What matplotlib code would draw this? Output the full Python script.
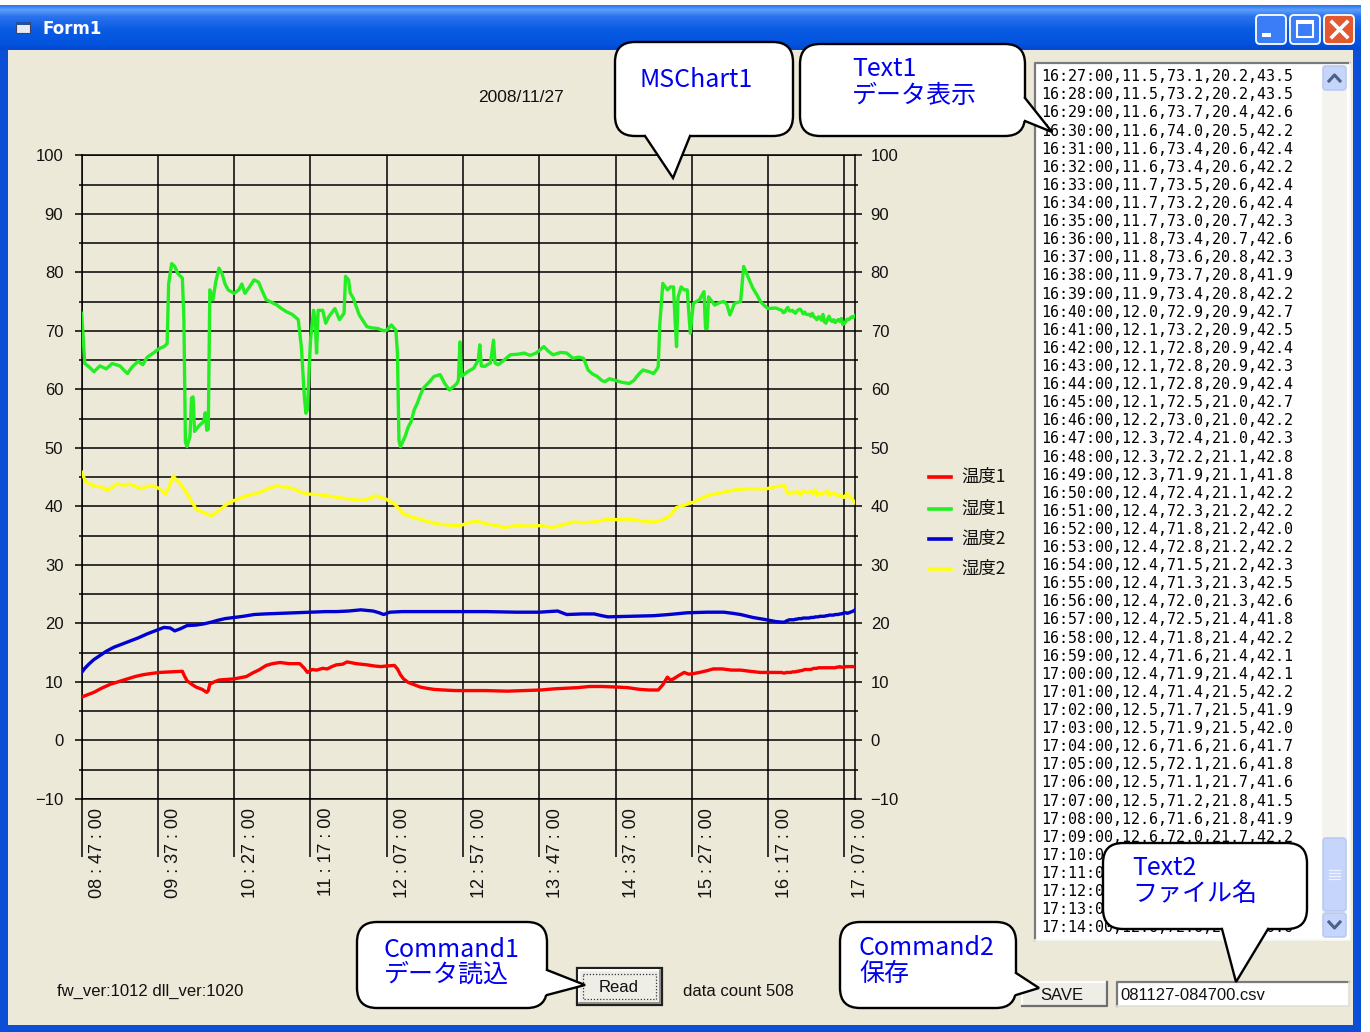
import numpy as np
import matplotlib
matplotlib.use('Agg')
import matplotlib.pyplot as plt
from matplotlib.patches import FancyBboxPatch, Polygon, Rectangle
from matplotlib.lines import Line2D
from matplotlib.colors import LinearSegmentedColormap
import matplotlib.transforms as mtransforms

plt.rcParams['font.family'] = ['Liberation Sans', 'DejaVu Sans']
CJK = ['Noto Sans CJK JP', 'DejaVu Sans']

# ---------------- data (x = minutes since 08:47) ----------------
series_names = ['温度1', '湿度1', '温度2', '湿度2']
series_colors = ['#FF0000', '#22EE22', '#0000D0', '#FFFF10']

xtick_pos = [0, 50, 100, 150, 200, 250, 300, 350, 400, 450, 500]
xtick_labels = ['08 : 47 : 00', '09 : 37 : 00', '10 : 27 : 00', '11 : 17 : 00', '12 : 07 : 00',
                '12 : 57 : 00', '13 : 47 : 00', '14 : 37 : 00', '15 : 27 : 00', '16 : 17 : 00',
                '17 : 07 : 00']

temp1_pts = [(0, 7.4), (4, 7.8), (8, 8.2), (13, 8.9), (19, 9.6), (25, 10.1), (30, 10.5), (35, 10.9),
             (40, 11.2), (45, 11.4), (51, 11.6), (58, 11.7), (66, 11.8), (67, 11.2), (69, 10.2),
             (72, 9.6), (75, 9.1), (79, 8.7), (82, 8.2), (83, 8.5), (84, 9.6), (87, 10.0), (90, 10.3),
             (95, 10.4), (100, 10.5), (104, 10.7), (108, 10.9), (112, 11.5), (116, 12.0), (121, 12.8),
             (125, 13.1), (130, 13.3), (136, 13.1), (143, 13.1), (146, 12.3), (148, 11.6), (151, 12.1),
             (154, 12.0), (158, 12.3), (161, 12.2), (164, 12.6), (167, 12.9), (171, 13.0), (174, 13.4),
             (176, 13.3), (180, 13.1), (187, 12.9), (192, 12.7), (196, 12.6), (200, 12.7), (205, 12.8),
             (207, 12.2), (209, 11.2), (211, 10.5), (214, 9.9), (218, 9.5), (222, 9.1), (226, 8.9),
             (231, 8.7), (237, 8.6), (245, 8.5), (255, 8.5), (265, 8.5), (279, 8.4), (290, 8.5),
             (301, 8.6), (310, 8.8), (318, 8.9), (325, 9.0), (333, 9.2), (341, 9.2), (351, 9.1),
             (358, 9.0), (366, 8.7), (372, 8.6), (378, 8.6), (381, 9.5), (384, 10.8), (386, 10.3),
             (388, 10.5), (391, 11.0), (395, 11.6), (398, 11.3), (401, 11.4), (405, 11.6), (410, 11.9),
             (414, 12.2), (420, 12.2), (426, 12.0), (432, 12.0), (438, 11.8), (445, 11.6), (450, 11.6),
             (455, 11.6), (459, 11.6)]

hum1_pts = [(0, 73.0), (2, 64.4), (5, 63.8), (8, 63.0), (12, 64.0), (16, 63.5), (20, 64.4), (25, 64.0),
            (28, 63.2), (30, 62.7), (33, 63.8), (37, 64.8), (40, 64.2), (43, 65.5), (47, 66.2),
            (51, 67.0), (54, 67.3), (56, 67.8), (57, 78.0), (59, 81.5), (61, 81.0), (63, 79.8),
            (66, 79.0), (67, 72.0), (68, 51.0), (69, 50.2), (71, 52.0), (72, 58.5), (73, 58.7),
            (74, 52.8), (77, 53.8), (80, 54.5), (81, 56.0), (82, 53.0), (83, 53.2), (84, 77.0),
            (86, 75.3), (88, 78.5), (90, 80.7), (92, 79.8), (94, 78.0), (96, 77.0), (100, 76.4),
            (103, 77.0), (105, 78.0), (107, 76.4), (110, 77.5), (113, 78.7), (116, 78.3), (118, 77.0),
            (121, 75.3), (125, 74.8), (128, 74.4), (131, 73.8), (134, 73.3), (138, 72.8), (142, 71.9),
            (144, 67.3), (146, 58.7), (147, 55.9), (148, 56.5), (149, 62.7), (150, 68.4), (152, 73.5),
            (153, 72.0), (154, 66.2), (155, 73.5), (158, 73.5), (160, 71.3), (162, 72.4), (166, 73.8),
            (169, 71.9), (172, 73.0), (173, 79.3), (175, 78.7), (176, 76.5), (178, 75.6), (182, 72.7),
            (185, 71.5), (187, 70.7), (190, 70.5), (194, 70.4), (198, 70.0), (200, 70.1), (203, 71.0),
            (206, 70.1), (207, 66.2), (208, 51.3), (209, 50.2), (212, 51.9), (214, 53.5), (216, 54.5),
            (218, 56.5), (220, 57.6), (222, 59.0), (224, 60.2), (227, 61.0), (231, 62.2), (235, 62.5),
            (238, 61.0), (241, 59.9), (244, 60.5), (246, 61.0), (247, 61.6), (248, 68.1), (249, 62.2),
            (253, 63.0), (257, 63.6), (260, 65.0), (261, 67.6), (262, 64.0), (264, 63.9), (268, 64.5),
            (270, 68.4), (271, 64.5), (273, 64.2), (277, 65.0), (281, 65.9), (286, 66.0), (290, 66.2),
            (294, 65.8), (298, 66.2), (303, 67.3), (306, 66.5), (309, 65.9), (314, 66.3), (318, 66.2),
            (322, 65.3), (326, 65.5), (329, 65.3), (332, 63.3), (335, 62.6), (338, 62.2), (341, 61.5),
            (343, 61.3), (346, 61.8), (349, 61.6), (354, 61.2), (359, 61.0), (362, 61.5), (364, 62.2),
            (366, 62.8), (368, 63.3), (372, 63.0), (375, 62.7), (377, 63.4), (378, 63.9), (379, 71.0),
            (381, 78.1), (384, 77.0), (386, 77.5), (388, 77.5), (389, 72.0), (390, 67.3), (391, 75.8),
            (393, 77.5), (395, 77.0), (397, 77.0), (399, 69.6), (401, 74.7), (405, 75.3), (408, 76.7),
            (409, 70.4), (410, 70.4), (411, 75.8), (415, 74.4), (418, 74.8), (421, 75.0), (423, 74.5),
            (425, 72.7), (428, 74.7), (432, 75.0), (433, 78.0), (434, 81.0), (436, 79.8), (438, 78.5),
            (440, 77.3), (443, 76.0), (445, 75.0), (448, 74.2), (450, 73.8), (455, 73.9), (459, 73.5)]

temp2_pts = [(0, 11.6), (2, 12.3), (5, 13.1), (8, 13.8), (12, 14.5), (16, 15.2), (21, 15.9), (26, 16.4),
             (32, 17.0), (37, 17.5), (43, 18.2), (48, 18.7), (54, 19.3), (58, 19.2), (61, 18.7),
             (65, 19.1), (69, 19.6), (75, 19.7), (80, 19.9), (85, 20.2), (89, 20.5), (94, 20.8),
             (100, 21.0), (106, 21.2), (113, 21.5), (120, 21.6), (130, 21.7), (140, 21.8), (150, 21.9),
             (160, 22.0), (167, 22.0), (175, 22.1), (183, 22.3), (187, 22.2), (191, 22.1), (195, 21.8),
             (198, 21.5), (202, 21.9), (210, 22.0), (226, 22.0), (245, 22.0), (265, 22.0), (285, 21.9),
             (300, 21.9), (312, 22.1), (318, 21.5), (328, 21.6), (336, 21.6), (341, 21.3), (345, 21.1),
             (360, 21.2), (375, 21.3), (385, 21.5), (397, 21.8), (410, 21.9), (421, 21.9), (427, 21.7),
             (432, 21.5), (440, 21.0), (449, 20.6), (455, 20.3), (459, 20.2)]

hum2_pts = [(0, 45.8), (2, 44.6), (3, 44.1), (8, 43.5), (13, 43.3), (17, 42.7), (23, 43.8), (28, 43.6),
            (32, 43.8), (36, 43.3), (39, 43.0), (43, 43.4), (47, 43.5), (51, 43.0), (55, 42.1),
            (58, 43.8), (60, 45.2), (62, 44.5), (65, 43.8), (68, 42.6), (71, 41.3), (75, 39.5),
            (80, 38.9), (85, 38.4), (88, 38.9), (91, 39.5), (94, 40.1), (97, 40.7), (102, 41.2),
            (108, 41.8), (112, 42.0), (117, 42.4), (122, 43.0), (128, 43.5), (133, 43.3), (139, 43.0),
            (143, 42.5), (148, 42.1), (155, 42.0), (161, 41.8), (168, 41.5), (174, 41.3), (180, 41.1),
            (185, 41.0), (189, 41.4), (193, 41.8), (196, 41.5), (199, 41.3), (203, 40.7), (205, 40.4),
            (208, 39.6), (211, 38.7), (216, 38.2), (222, 37.8), (228, 37.3), (233, 37.0), (240, 36.8),
            (248, 36.7), (254, 37.2), (259, 37.5), (265, 37.0), (270, 36.8), (277, 36.4), (285, 36.7),
            (293, 36.6), (301, 36.7), (309, 36.4), (315, 36.8), (322, 37.3), (330, 37.2), (338, 37.4),
            (345, 37.8), (352, 37.7), (360, 37.8), (367, 37.5), (375, 37.3), (380, 37.6), (386, 38.4),
            (388, 39.2), (390, 39.8), (395, 40.2), (401, 40.7), (405, 41.2), (410, 41.8), (415, 42.1),
            (421, 42.4), (428, 42.8), (436, 43.0), (442, 43.0), (449, 43.0), (454, 43.3), (459, 43.5)]

# last 48 records (16:27 .. 17:14), as listed in the text box
tail_start = 460
temp1_tail = [11.5, 11.5, 11.6, 11.6, 11.6, 11.6, 11.7, 11.7, 11.7, 11.8, 11.8, 11.9, 11.9, 12.0, 12.1, 12.1,
              12.1, 12.1, 12.1, 12.2, 12.3, 12.3, 12.3, 12.4, 12.4, 12.4, 12.4, 12.4, 12.4, 12.4, 12.4, 12.4,
              12.4, 12.4, 12.4, 12.5, 12.5, 12.6, 12.5, 12.5, 12.5, 12.6, 12.6, 12.6, 12.6, 12.6, 12.6, 12.6]
hum1_tail = [73.1, 73.2, 73.7, 74.0, 73.4, 73.4, 73.5, 73.2, 73.0, 73.4, 73.6, 73.7, 73.4, 72.9, 73.2, 72.8,
             72.8, 72.8, 72.5, 73.0, 72.4, 72.2, 71.9, 72.4, 72.3, 71.8, 72.8, 71.5, 71.3, 72.0, 72.5, 71.8,
             71.6, 71.9, 71.4, 71.7, 71.9, 71.6, 72.1, 71.1, 71.2, 71.6, 72.0, 71.9, 72.2, 72.4, 72.3, 72.6]
temp2_tail = [20.2, 20.2, 20.4, 20.5, 20.6, 20.6, 20.6, 20.6, 20.7, 20.7, 20.8, 20.8, 20.8, 20.9, 20.9, 20.9,
              20.9, 20.9, 21.0, 21.0, 21.0, 21.1, 21.1, 21.1, 21.2, 21.2, 21.2, 21.2, 21.3, 21.3, 21.4, 21.4,
              21.4, 21.4, 21.5, 21.5, 21.5, 21.6, 21.6, 21.7, 21.8, 21.8, 21.7, 21.8, 21.9, 22.0, 22.1, 22.3]
hum2_tail = [43.5, 43.5, 42.6, 42.2, 42.4, 42.2, 42.4, 42.4, 42.3, 42.6, 42.3, 41.9, 42.2, 42.7, 42.5, 42.4,
             42.3, 42.4, 42.7, 42.2, 42.3, 42.8, 41.8, 42.2, 42.2, 42.0, 42.2, 42.3, 42.5, 42.6, 41.8, 42.2,
             42.1, 42.1, 42.2, 41.9, 42.0, 41.7, 41.8, 41.6, 41.5, 41.9, 42.2, 41.8, 41.6, 41.3, 40.9, 40.6]

date_text = '2008/11/27'
version_text = 'fw_ver:1012 dll_ver:1020'
count_text = 'data count 508'
file_text = '081127-084700.csv'

# ---------------- figure / layers ----------------
W, H = 1370, 1032
fig = plt.figure(figsize=(13.7, 10.32), dpi=100)
fig.patch.set_facecolor('white')

bg = fig.add_axes([0, 0, 1, 1], zorder=0, label='bg')
fg = fig.add_axes([0, 0, 1, 1], zorder=10, label='fg')
for a in (bg, fg):
    a.set_xlim(0, W)
    a.set_ylim(H, 0)
    a.axis('off')
fg.patch.set_alpha(0)

BEIGE = '#ECE9D8'
BLUE = '#0A4FD6'

# window frame
bg.add_patch(Rectangle((0, 5), 1361, 1027, fc=BLUE, ec='none'))
bg.add_patch(Rectangle((8, 50), 1345, 975, fc=BEIGE, ec='none'))
cmap = LinearSegmentedColormap.from_list('tb', [(0, '#2A78F0'), (0.1, '#5C9FFB'), (0.25, '#2B72EE'),
                                                (0.55, '#0A5BE2'), (0.85, '#0254E0'), (1, '#0548CF')])
grad = cmap(np.linspace(0, 1, 60))[:, None, :]
bg.imshow(grad, extent=(0, 1361, 50, 5), aspect='auto', zorder=1)
bg.set_xlim(0, W)
bg.set_ylim(H, 0)

# title icon and text
bg.add_patch(Rectangle((16, 22), 14, 11, fc='#E8E8F0', ec='#404060', lw=0.8, zorder=2))
bg.add_patch(Rectangle((16, 22), 14, 3, fc='#2050A0', ec='none', zorder=3))
bg.text(43, 29, 'Form1', color='white', fontsize=12, fontweight='bold', family='DejaVu Sans',
        va='center', ha='left', zorder=3)

# title buttons
for x0, fc in ((1256, '#3A7DF6'), (1290, '#3A7DF6'), (1324, '#E2582F')):
    bg.add_patch(FancyBboxPatch((x0, 15), 30, 29, boxstyle='round,pad=0,rounding_size=4',
                                fc=fc, ec='white', lw=1.3, zorder=3))
bg.add_patch(Rectangle((1262, 33), 9, 4, fc='white', ec='none', zorder=4))
bg.add_patch(Rectangle((1297, 21), 16, 16, fc='none', ec='white', lw=1.5, zorder=4))
bg.add_patch(Rectangle((1297, 21), 16, 3, fc='white', ec='none', zorder=4))
bg.add_line(Line2D([1332, 1347], [22, 37], color='white', lw=2.6, zorder=4))
bg.add_line(Line2D([1332, 1347], [37, 22], color='white', lw=2.6, zorder=4))

# date label
bg.text(521, 97, date_text, fontsize=12.5, ha='center', va='center', color='#111111')

# ---------------- chart ----------------
L, R, T, B = 81.7, 855.0, 155.3, 798.8
ax = fig.add_axes([L / W, 1 - B / H, (R - L) / W, (B - T) / H], zorder=5)
ax.set_facecolor('none')
ax.set_xlim(0, 507)
ax.set_ylim(-10, 100)


def full_series(pts, tail):
    xs = [p[0] for p in pts] + list(range(tail_start, tail_start + len(tail)))
    ys = [p[1] for p in pts] + list(tail)
    return xs, ys


all_series = [(temp1_pts, temp1_tail), (hum1_pts, hum1_tail), (temp2_pts, temp2_tail), (hum2_pts, hum2_tail)]
for (pts, tail), col, name in zip(all_series, series_colors, series_names):
    xs, ys = full_series(pts, tail)
    ax.plot(xs, ys, color=col, lw=2.4, solid_joinstyle='round', label=name, zorder=3)

ax.set_yticks(np.arange(-10, 101, 10))
ax.set_yticks(np.arange(-5, 100, 10), minor=True)
ax.set_xticks(xtick_pos)
ax.set_xticklabels([])
ax.grid(axis='y', which='both', color='black', lw=1.1)
ax.grid(axis='x', which='major', color='black', lw=1.1)
ax.set_axisbelow(True)
for s in ax.spines.values():
    s.set_color('black')
    s.set_linewidth(1.1)
ax.tick_params(axis='x', direction='out', length=41.5, width=1.1, color='black', labelbottom=False)
ax.tick_params(axis='y', which='major', direction='out', length=5, width=1.1, labelsize=12,
               pad=8.2, labelcolor='#111111')
ax.tick_params(axis='y', which='minor', direction='out', length=2.2, width=1.1)

ax2 = ax.twinx()
ax2.set_ylim(-10, 100)
ax2.set_yticks(np.arange(-10, 101, 10))
ax2.set_yticks(np.arange(-5, 100, 10), minor=True)
for s in ax2.spines.values():
    s.set_visible(False)
ax2.tick_params(axis='y', which='major', direction='out', length=5, width=1.1, labelsize=12,
                pad=6.3, labelcolor='#111111')
ax2.tick_params(axis='y', which='minor', direction='out', length=2.2, width=1.1)

lab_tr = mtransforms.offset_copy(ax.get_xaxis_transform(), fig=fig, x=16, y=-9, units='dots')
for p, lab in zip(xtick_pos, xtick_labels):
    ax.text(p, 0, lab, transform=lab_tr, rotation=90, ha='center', va='top', fontsize=13,
            color='#111111', clip_on=False)

# legend (drawn at the reference position)
leg_y = [477, 509, 539, 569]
for yy, col, name in zip(leg_y, series_colors, series_names):
    bg.add_line(Line2D([929, 951], [yy, yy], color=col, lw=2.6, zorder=3))
    bg.text(961, yy, name, family=CJK, fontsize=12.5, va='center', ha='left', color='#111111', zorder=3)

# ---------------- text box with records ----------------
bg.add_patch(Rectangle((1035, 63), 315, 877, fc='white', ec='none', zorder=2))
bg.add_line(Line2D([1035, 1035, 1350], [940, 63, 63], color='#7A7A7A', lw=1.6, zorder=3))
bg.add_line(Line2D([1035, 1350, 1350], [940, 940, 63], color='#F8F8F8', lw=1.2, zorder=3))
# scroll bar
bg.add_patch(Rectangle((1322, 65), 25, 873, fc='#F4F3EE', ec='none', zorder=3))
for y0 in (66, 913):
    bg.add_patch(FancyBboxPatch((1323, y0), 23, 24, boxstyle='round,pad=0,rounding_size=3',
                                fc='#C6D5FB', ec='#B4C6F2', lw=1, zorder=4))
bg.add_line(Line2D([1329, 1334.5, 1340], [81, 75, 81], color='#4D6185', lw=2.2, zorder=5))
bg.add_line(Line2D([1329, 1334.5, 1340], [922, 928, 922], color='#4D6185', lw=2.2, zorder=5))
bg.add_patch(FancyBboxPatch((1323, 838), 23, 73, boxstyle='round,pad=0,rounding_size=3',
                            fc='#C6D5FB', ec='#B4C6F2', lw=1, zorder=4))
for yy in (870, 873, 876, 879):
    bg.add_line(Line2D([1329, 1340], [yy, yy], color='#EEF3FF', lw=0.9, zorder=5))

times = ['%d:%02d:00' % divmod(16 * 60 + 27 + i, 60) for i in range(len(temp1_tail))]
n_rec = len(times)
for i, (t, a, b, c, d) in enumerate(zip(times, temp1_tail, hum1_tail, temp2_tail, hum2_tail)):
    line = f'{t},{a:.1f},{b:.1f},{c:.1f},{d:.1f}'
    if n_rec - 6 < i < n_rec - 1:
        # these records are hidden behind the Text2 callout; only the start shows
        line = line[:7]
    bg.text(1041, 76.7 + i * 18.11, line, family='DejaVu Sans Mono',
            fontsize=10.8, va='center', ha='left', color='black', zorder=4)

# ---------------- bottom controls ----------------
bg.text(57, 991, version_text, fontsize=12, va='center', ha='left', color='#111111')
bg.text(683, 991, count_text, fontsize=12, va='center', ha='left', color='#111111')

# Read button
bg.add_patch(Rectangle((577, 968), 85, 37, fc='#EEEDE6', ec='#202020', lw=1.6, zorder=2))
bg.add_line(Line2D([579, 579, 660], [1003, 970, 970], color='white', lw=1.2, zorder=3))
bg.add_line(Line2D([579, 660, 660], [1003, 1003, 970], color='#808080', lw=1.2, zorder=3))
bg.add_patch(Rectangle((583, 974), 73, 25, fc='none', ec='#333333', lw=0.9, ls=(0, (1, 1.5)), zorder=3))
bg.text(619, 987, 'Read', fontsize=12, ha='center', va='center', color='#111111', zorder=4)

# SAVE button
bg.add_patch(Rectangle((1022, 982), 85, 24, fc='#EEEDE6', ec='none', zorder=2))
bg.add_line(Line2D([1022, 1022, 1107], [1006, 982, 982], color='white', lw=1.4, zorder=3))
bg.add_line(Line2D([1022, 1107, 1107], [1006, 1006, 982], color='#6E6E6E', lw=1.6, zorder=3))
bg.text(1062, 995, 'SAVE', fontsize=12, ha='center', va='center', color='#111111', zorder=4)

# file name box
bg.add_patch(Rectangle((1117, 982), 232, 24, fc='white', ec='none', zorder=2))
bg.add_line(Line2D([1117, 1117, 1349], [1006, 982, 982], color='#7A7A7A', lw=1.6, zorder=3))
bg.add_line(Line2D([1117, 1349, 1349], [1006, 1006, 982], color='#E0DED6', lw=1.2, zorder=3))
bg.text(1120, 995, file_text, fontsize=12, ha='left', va='center', color='#111111', zorder=4)

# ---------------- callouts ----------------
def callout(x0, y0, x1, y1, b1, tip, b2, inward, lines, text_x, text_ys):
    fg.add_patch(FancyBboxPatch((x0, y0), x1 - x0, y1 - y0, boxstyle='round,pad=0,rounding_size=20',
                                fc='white', ec='black', lw=1.7, zorder=1))
    dx, dy = inward
    poly = [(b1[0] + dx, b1[1] + dy), b1, tip, b2, (b2[0] + dx, b2[1] + dy)]
    fg.add_patch(Polygon(poly, closed=True, fc='white', ec='none', zorder=2))
    fg.add_line(Line2D([b1[0], tip[0], b2[0]], [b1[1], tip[1], b2[1]], color='black', lw=1.7,
                       solid_joinstyle='miter', zorder=3))
    for s, yy in zip(lines, text_ys):
        fg.text(text_x, yy, s, family=CJK, fontsize=18, color='#0000EE', va='center', ha='left', zorder=4)


callout(615, 42, 793, 136, (645, 136), (673, 178), (690, 136), (0, -4), ['MSChart1'], 640, [80])
callout(800, 44, 1025, 136, (1025, 98), (1052, 132), (1025, 121), (-4, 0),
        ['Text1', 'データ表示'], 852, [69, 96])
callout(1103, 843, 1307, 929, (1222, 929), (1236, 982), (1268, 929), (0, -4),
        ['Text2', 'ファイル名'], 1132, [868, 894])
callout(357, 922, 547, 1008, (547, 970), (585, 985), (547, 995), (-4, 0),
        ['Command1', 'データ読込'], 384, [950, 975])
callout(840, 922, 1016, 1008, (1016, 973), (1039, 988), (1016, 995), (-4, 0),
        ['Command2', '保存'], 859, [948, 974])

fig.savefig('out.png', dpi=100, facecolor=fig.get_facecolor())
